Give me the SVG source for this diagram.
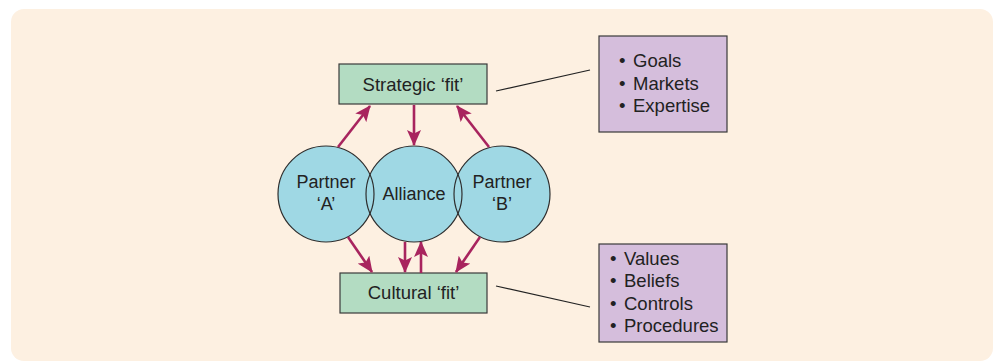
<svg xmlns="http://www.w3.org/2000/svg" width="997" height="362" viewBox="0 0 997 362">
<defs>
<style>
.bg{fill:#fdf0e1}
.box{fill:#b3dcc2;stroke:#3a3a3a;stroke-width:1.2}
.note{fill:#d5bedc;stroke:#3a3a3a;stroke-width:1.2}
.circ{fill:#9fd8e4}
.ring{fill:none;stroke:#2e2e2e;stroke-width:1.2}
.t{font-family:"Liberation Sans",Arial,sans-serif;fill:#222;text-anchor:middle}
.l{font-family:"Liberation Sans",Arial,sans-serif;fill:#222;font-size:18.5px}
.arr{stroke:#a8245e;stroke-width:2.6;fill:none;marker-end:url(#ah)}
.ln{stroke:#222;stroke-width:1.2;fill:none}
</style>
<marker id="ah" markerUnits="userSpaceOnUse" markerWidth="16" markerHeight="14" viewBox="0 0 16 14" refX="15" refY="7" orient="auto">
<path d="M0,0 L16,7 L0,14 L3.5,7 Z" fill="#a8245e"/>
</marker>
</defs>
<rect x="0" y="0" width="997" height="362" fill="#ffffff"/>
<rect class="bg" x="11" y="9" width="982" height="352" rx="13"/>

<g id="partner-a">
<circle class="circ" cx="326" cy="194" r="48"/>
</g>
<g id="alliance">
<circle class="circ" cx="414" cy="194" r="48"/>
</g>
<g id="partner-b">
<circle class="circ" cx="502" cy="194" r="48"/>
</g>
<g id="rings">
<circle class="ring" cx="326" cy="194" r="48"/>
<circle class="ring" cx="414" cy="194" r="48"/>
<circle class="ring" cx="502" cy="194" r="48"/>
<text class="t" x="326" y="188" font-size="18">Partner</text>
<text class="t" x="326" y="210" font-size="18">‘A’</text>
<text class="t" x="414" y="200" font-size="18">Alliance</text>
<text class="t" x="502" y="188" font-size="18">Partner</text>
<text class="t" x="502" y="210" font-size="18">‘B’</text>
</g>

<g id="strategic-fit">
<rect class="box" x="339" y="64" width="148" height="40"/>
<text class="t" x="413" y="91" font-size="18.5">Strategic ‘fit’</text>
</g>
<g id="cultural-fit">
<rect class="box" x="340" y="273" width="147" height="40"/>
<text class="t" x="413.5" y="299" font-size="18.5">Cultural ‘fit’</text>
</g>

<g id="strategic-list">
<rect class="note" x="599" y="36" width="128" height="96"/>
<text class="l" x="619" y="67">•<tspan x="633">Goals</tspan></text>
<text class="l" x="619" y="89.5">•<tspan x="633">Markets</tspan></text>
<text class="l" x="619" y="112">•<tspan x="633">Expertise</tspan></text>
</g>
<g id="cultural-list">
<rect class="note" x="599" y="244" width="128" height="98"/>
<text class="l" x="610" y="264.5">•<tspan x="624">Values</tspan></text>
<text class="l" x="610" y="287">•<tspan x="624">Beliefs</tspan></text>
<text class="l" x="610" y="309.5">•<tspan x="624">Controls</tspan></text>
<text class="l" x="610" y="332">•<tspan x="624">Procedures</tspan></text>
</g>

<g id="connectors">
<line class="ln" x1="496" y1="91" x2="590" y2="70"/>
<line class="ln" x1="496" y1="286" x2="590" y2="307"/>
<line class="arr" x1="338" y1="147" x2="370" y2="106"/>
<line class="arr" x1="414" y1="105" x2="414" y2="145"/>
<line class="arr" x1="489" y1="147" x2="457" y2="106"/>
<line class="arr" x1="348" y1="237" x2="372" y2="272"/>
<line class="arr" x1="405" y1="242" x2="405" y2="272"/>
<line class="arr" x1="421" y1="273" x2="421" y2="242"/>
<line class="arr" x1="480" y1="237" x2="456" y2="272"/>
</g>
</svg>
